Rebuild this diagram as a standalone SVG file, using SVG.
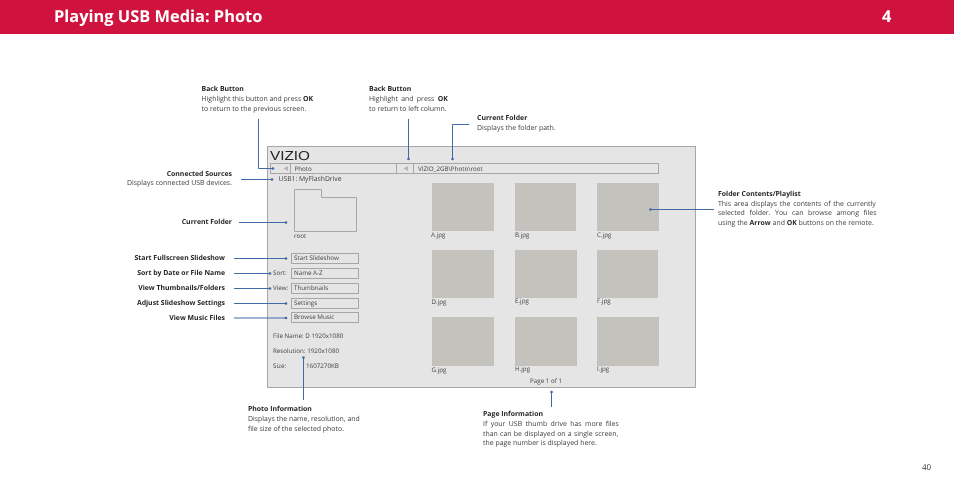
<svg xmlns="http://www.w3.org/2000/svg" width="954" height="488" viewBox="0 0 954 488">
<style>
text{font-family:"Open Sans","Noto Sans","Liberation Sans",sans-serif;font-size:6.95px;fill:#3c3c3c;text-rendering:geometricPrecision}
.b{font-weight:700;fill:#231f20;font-size:6.9px}
.r{text-anchor:end}
.s{font-size:6.25px;fill:#444}
.box{fill:none;stroke:#a6a6a6;stroke-width:1}
.th{fill:#c4c2bd}
.tri{fill:#b5b5b5}
.c{fill:none;stroke:#3f6aa6;stroke-width:1}
.soft{filter:url(#soft)}
.h{font-size:16.4px;font-weight:700;fill:#fff}
</style>
<defs>
<filter id="soft" x="0" y="0" width="954" height="488" filterUnits="userSpaceOnUse" color-interpolation-filters="sRGB"><feGaussianBlur stdDeviation="0.2"/></filter>
<marker id="dot" markerUnits="userSpaceOnUse" markerWidth="4" markerHeight="4" refX="2" refY="2"><circle cx="2" cy="2" r="1.3" fill="#3f6aa6"/></marker>
</defs>
<g class="soft">
<g id="header">
<rect x="0" y="0" width="954" height="34" fill="#cf133e"/>
<text class="h" x="54" y="22.300">Playing USB Media: Photo</text>
<text class="h" x="882" y="22.300">4</text>
</g>
<text id="page-number" x="922" y="470" style="font-size:8px;fill:#333">40</text>
<g id="screen">
<rect x="267.5" y="146.5" width="428" height="241" fill="#e5e5e5" stroke="#a6a6a6"/>
<text x="270" y="159.500" textLength="40" lengthAdjust="spacingAndGlyphs" style="font-family:'Liberation Sans',sans-serif;font-size:13px;fill:#222">VIZIO</text>
</g>
<g id="breadcrumb">
<rect class="box" x="270.5" y="163.5" width="388" height="10"/>
<path class="box" d="M290.5 163.5V173.5M396.5 163.5V173.5M413.5 163.5V173.5"/>
<path class="tri" d="M288 166L283.5 168.5L288 171ZM408 166L403.5 168.5L408 171Z"/>
<text class="s" x="294.5" y="170.5">Photo</text>
<text class="s" x="418" y="170.5">VIZIO_2GB\Photo\root</text>
</g>
<text id="usb" x="278.5" y="181" style="font-size:6.8px">USB1: MyFlashDrive</text>
<g id="folder">
<path class="box" d="M294.5 189.5H321.5V197.5H356.5V231.5H294.5Z"/>
<text class="s" x="294" y="238">root</text>
</g>
<g id="btn-slideshow"><rect class="box" x="291.5" y="253.5" width="67" height="10"/><text class="s" x="294" y="260">Start Slideshow</text></g>
<g id="btn-sort"><text class="s" x="273" y="275">Sort:</text><rect class="box" x="291.5" y="268.5" width="67" height="10"/><text class="s" x="294" y="275">Name A-Z</text></g>
<g id="btn-view"><text class="s" x="273" y="290">View:</text><rect class="box" x="291.5" y="283.5" width="67" height="10"/><text class="s" x="294" y="290">Thumbnails</text></g>
<g id="btn-settings"><rect class="box" x="291.5" y="298.5" width="67" height="10"/><text class="s" x="294" y="305">Settings</text></g>
<g id="btn-music"><rect class="box" x="291.5" y="312.5" width="67" height="10"/><text class="s" x="294" y="319">Browse Music</text></g>
<g id="file-info">
<text class="s" x="273" y="338">File Name: D 1920x1080</text>
<text class="s" x="273" y="353">Resolution: 1920x1080</text>
<text class="s" x="273" y="368">Size:</text>
<text class="s" x="306" y="368">1607270KB</text>
</g>
<g id="thumbs">
<rect class="th" x="432" y="183" width="62" height="48"/><text class="s" x="431" y="237">A.jpg</text>
<rect class="th" x="515" y="183" width="61" height="48"/><text class="s" x="515" y="237">B.jpg</text>
<rect class="th" x="597" y="183" width="62" height="48"/><text class="s" x="597" y="237">C.jpg</text>
<rect class="th" x="432" y="250" width="62" height="48"/><text class="s" x="431.500" y="304">D.jpg</text>
<rect class="th" x="515" y="250" width="62" height="48"/><text class="s" x="515" y="303">E.jpg</text>
<rect class="th" x="597" y="250" width="61" height="48"/><text class="s" x="597" y="303">F.jpg</text>
<rect class="th" x="432" y="317" width="62" height="49"/><text class="s" x="431.500" y="372">G.jpg</text>
<rect class="th" x="515" y="317" width="62" height="49"/><text class="s" x="515" y="371">H.jpg</text>
<rect class="th" x="597" y="317" width="62" height="49"/><text class="s" x="597" y="371">I.jpg</text>
<text class="s" x="530" y="383">Page 1 of 1</text>
</g>
<g id="connectors">
<path class="c" marker-end="url(#dot)" d="M258.500 119V168.500H273"/>
<path class="c" marker-end="url(#dot)" d="M408.500 119V159"/>
<path class="c" marker-end="url(#dot)" d="M469 124.500H452.500V159"/>
<path class="c" marker-end="url(#dot)" d="M241 179.500H272"/>
<path class="c" marker-end="url(#dot)" d="M239 222.500H286"/>
<path class="c" marker-end="url(#dot)" d="M234 258.500H286"/>
<path class="c" marker-end="url(#dot)" d="M234 273.500H270"/>
<path class="c" marker-end="url(#dot)" d="M234 288.500H270"/>
<path class="c" marker-end="url(#dot)" d="M234 303.500H286"/>
<path class="c" marker-end="url(#dot)" d="M234 318H286"/>
<path class="c" marker-end="url(#dot)" d="M303.500 400V357.500"/>
<path class="c" marker-end="url(#dot)" d="M714 209.500H650.500"/>
<path class="c" marker-end="url(#dot)" d="M551.500 407V392"/>
</g>
<g id="note-back1">
<text class="b" x="201.500" y="91">Back Button</text>
<text x="201.500" y="101">Highlight this button and press <tspan class="b">OK</tspan></text>
<text x="201.500" y="111">to return to the previous screen.</text>
</g>
<g id="note-back2">
<text class="b" x="369" y="91">Back Button</text>
<text x="369" y="101" word-spacing="1.5">Highlight and press <tspan class="b">OK</tspan></text>
<text x="369" y="111">to return to left column.</text>
</g>
<g id="note-folder-path">
<text class="b" x="477" y="120">Current Folder</text>
<text x="477" y="130">Displays the folder path.</text>
</g>
<g id="note-sources">
<text class="b r" x="232" y="176">Connected Sources</text>
<text class="r" x="232" y="185">Displays connected USB devices.</text>
</g>
<text id="note-current-folder" class="b r" x="232" y="224">Current Folder</text>
<text id="note-start" class="b r" x="225" y="260">Start Fullscreen Slideshow</text>
<text id="note-sort" class="b r" x="225" y="275">Sort by Date or File Name</text>
<text id="note-view" class="b r" x="225" y="290">View Thumbnails/Folders</text>
<text id="note-settings" class="b r" x="225" y="305">Adjust Slideshow Settings</text>
<text id="note-music" class="b r" x="225" y="320">View Music Files</text>
<g id="note-photo">
<text class="b" x="248" y="411">Photo Information</text>
<text x="248" y="421">Displays the name, resolution, and</text>
<text x="248" y="431">file size of the selected photo.</text>
</g>
<g id="note-page">
<text class="b" x="483" y="416">Page Information</text>
<text x="483" y="426" word-spacing="1.6">If your USB thumb drive has more files</text>
<text x="483" y="436" word-spacing=".45">than can be displayed on a single screen,</text>
<text x="483" y="445">the page number is displayed here.</text>
</g>
<g id="note-contents">
<text class="b" x="718" y="196">Folder Contents/Playlist</text>
<text x="718" y="206" word-spacing=".95">This area displays the contents of the currently</text>
<text x="718" y="215" word-spacing="2.8">selected folder. You can browse among files</text>
<text x="718" y="225">using the <tspan class="b">Arrow</tspan> and <tspan class="b">OK</tspan> buttons on the remote.</text>
</g>
</g>
</svg>
